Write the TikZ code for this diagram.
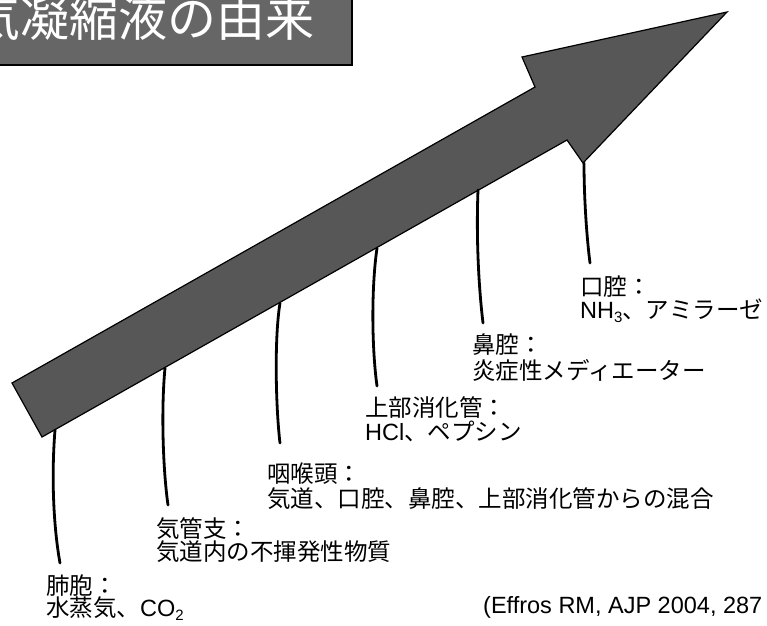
\documentclass[tikz,border=0pt]{standalone}
\usepackage{fontspec}
\setmainfont{Liberation Sans}
\newfontfamily\jp{Noto Sans CJK JP}
\newcommand\mysub[1]{\raisebox{-0.2em}{\fontsize{15}{15}\selectfont #1}}
\begin{document}
\begin{tikzpicture}[x=1pt,y=-1pt,
  lab/.style={anchor=base west, inner sep=0pt, font=\fontsize{23.5}{24}\selectfont},
  conn/.style={line width=2.8pt, line cap=round},
  arrowbody/.style={draw=black, line width=1.2pt, fill=black!66, line join=miter},
  titlebox/.style={draw=black, line width=1.6pt, fill=black!60},
  titletext/.style={anchor=base west, inner sep=0pt, text=white, font=\jp\fontsize{49}{49}\selectfont}]
\useasboundingbox (0,0) rectangle (767,625);
\clip (0,0) rectangle (767,625);
% title
\draw[titlebox] (-10,-10) rectangle (352,65);
\node[titletext] (title) at (-29,36) {気凝縮液の由来};
% big arrow
\draw[arrowbody] (12,383) -- (535,87) -- (522,57) -- (727,12) -- (583,163) -- (567,140) -- (42,437) -- cycle;
% connector ends
\coordinate (t1) at (55,430);  \coordinate (b1) at (60,563);
\coordinate (t2) at (165,368); \coordinate (b2) at (168,505);
\coordinate (t3) at (280,303); \coordinate (b3) at (280,443);
\coordinate (t4) at (377,248); \coordinate (b4) at (377,386);
\coordinate (t5) at (478,190); \coordinate (b5) at (483,323);
\coordinate (t6) at (584,163); \coordinate (b6) at (590,263);
\draw[conn] (t1) .. controls (51,480) and (54,530) .. (b1);
\draw[conn] (t2) .. controls (161,410) and (163,470) .. (b2);
\draw[conn] (t3) .. controls (274,340) and (276,410) .. (b3);
\draw[conn] (t4) .. controls (371,290) and (372,350) .. (b4);
\draw[conn] (t5) .. controls (476,240) and (479,290) .. (b5);
\draw[conn] (t6) .. controls (584,200) and (587,240) .. (b6);
% labels
\node[lab] (l6a) at (580,295) {\jp 口腔：};
\node[lab] (l6b) at (580,318) {NH\mysub{3}{\jp 、アミラーゼ}};
\node[lab] (l5a) at (472,353) {\jp 鼻腔：};
\node[lab] (l5b) at (472,379) {\jp 炎症性メディエーター};
\node[lab] (l4a) at (365,416) {\jp 上部消化管：};
\node[lab] (l4b) at (365,440) {HCl{\jp 、ペプシン}};
\node[lab] (l3a) at (267,482) {\jp 咽喉頭：};
\node[lab] (l3b) at (267,507) {\jp 気道、口腔、鼻腔、上部消化管からの混合};
\node[lab] (l2a) at (156,537) {\jp 気管支：};
\node[lab] (l2b) at (156,560) {\jp 気道内の不揮発性物質};
\node[lab] (l1a) at (46,594) {\jp 肺胞：};
\node[lab] (l1b) at (46,616) {{\jp 水蒸気、}CO\mysub{2}};
\node[lab] (ref) at (483,613) {(Effros RM, AJP 2004, 287};
\end{tikzpicture}
\end{document}
